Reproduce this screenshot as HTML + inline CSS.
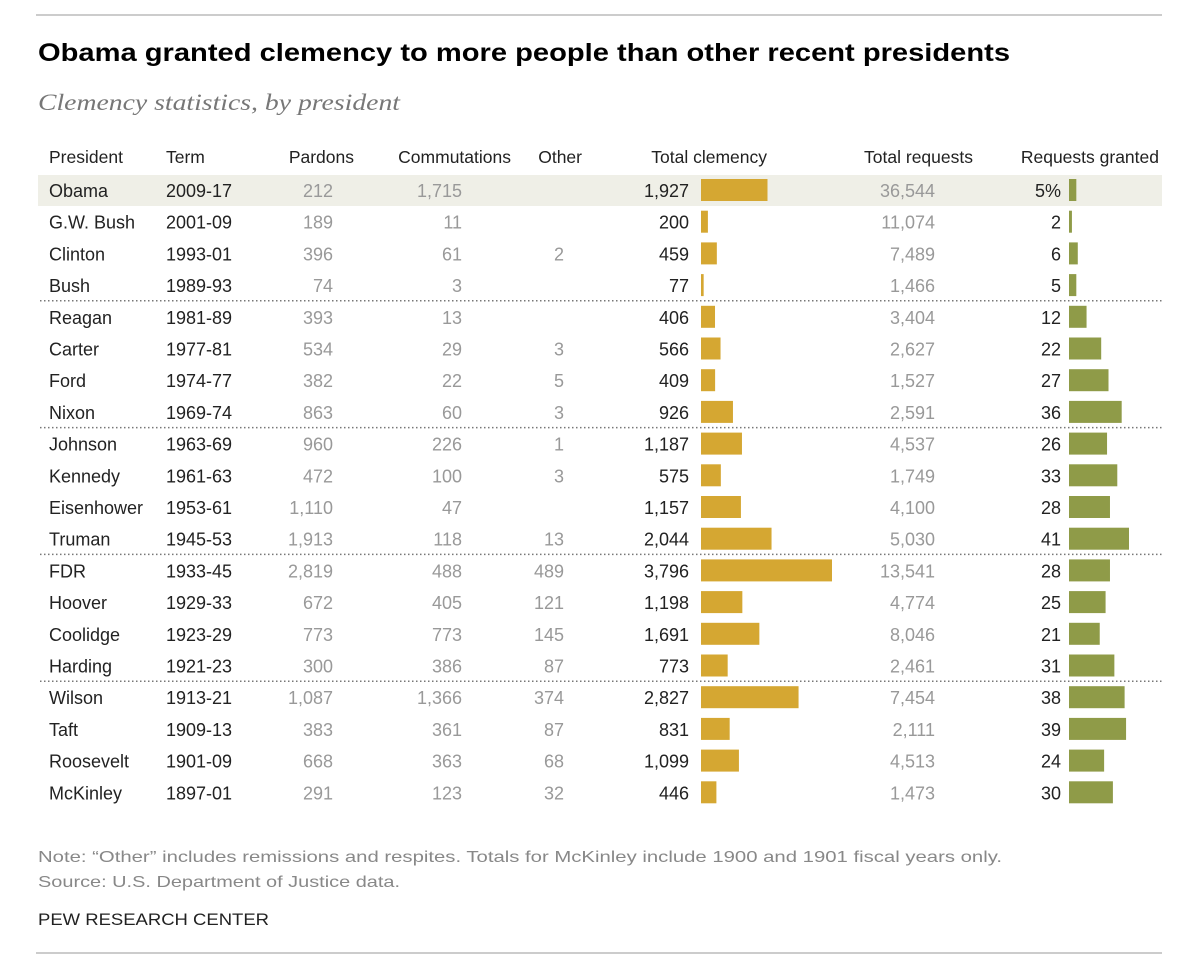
<!DOCTYPE html>
<html><head><meta charset="utf-8"><style>
body{margin:0;background:#fff;width:1200px;height:973px;overflow:hidden;font-family:"Liberation Sans",sans-serif;}
</style></head><body>
<svg id="c" width="1200" height="973" xmlns="http://www.w3.org/2000/svg" font-family="Liberation Sans, sans-serif">
<rect x="0" y="0" width="1200" height="973" fill="#fff"/>
<line x1="36" y1="15" x2="1162" y2="15" stroke="#ccc" stroke-width="2"/>
<text x="38" y="61" font-size="25" font-weight="bold" fill="#000" textLength="972" lengthAdjust="spacingAndGlyphs">Obama granted clemency to more people than other recent presidents</text>
<text x="38" y="110" font-size="23" font-style="italic" fill="#777" font-family="Liberation Serif, serif" textLength="362" lengthAdjust="spacingAndGlyphs">Clemency statistics, by president</text>
<rect x="38" y="175" width="1124" height="31" fill="#efefe7"/>
<g id="hdr" font-size="17.5" fill="#222"></g>
<g id="rows"></g>
<text x="38" y="862" font-size="16" fill="#888" textLength="964" lengthAdjust="spacingAndGlyphs">Note: “Other” includes remissions and respites. Totals for McKinley include 1900 and 1901 fiscal years only.</text>
<text x="38" y="887" font-size="16" fill="#888" textLength="362" lengthAdjust="spacingAndGlyphs">Source: U.S. Department of Justice data.</text>
<text x="38" y="925" font-size="17" fill="#222" textLength="231" lengthAdjust="spacingAndGlyphs">PEW RESEARCH CENTER</text>
<line x1="36" y1="953" x2="1162" y2="953" stroke="#ccc" stroke-width="2"/>
</svg>
<script>
const presidents=["Obama","G.W. Bush","Clinton","Bush","Reagan","Carter","Ford","Nixon","Johnson","Kennedy","Eisenhower","Truman","FDR","Hoover","Coolidge","Harding","Wilson","Taft","Roosevelt","McKinley"];
const terms=["2009-17","2001-09","1993-01","1989-93","1981-89","1977-81","1974-77","1969-74","1963-69","1961-63","1953-61","1945-53","1933-45","1929-33","1923-29","1921-23","1913-21","1909-13","1901-09","1897-01"];
const pardons=[212,189,396,74,393,534,382,863,960,472,1110,1913,2819,672,773,300,1087,383,668,291];
const commutations=[1715,11,61,3,13,29,22,60,226,100,47,118,488,405,773,386,1366,361,363,123];
const other=[null,null,2,null,null,3,5,3,1,3,null,13,489,121,145,87,374,87,68,32];
const totalClemency=[1927,200,459,77,406,566,409,926,1187,575,1157,2044,3796,1198,1691,773,2827,831,1099,446];
const totalRequests=[36544,11074,7489,1466,3404,2627,1527,2591,4537,1749,4100,5030,13541,4774,8046,2461,7454,2111,4513,1473];
const pctGranted=[5,2,6,5,12,22,27,36,26,33,28,41,28,25,21,31,38,39,24,30];
const headers=["President","Term","Pardons","Commutations","Other","Total clemency","Total requests","Requests granted"];
const NS="http://www.w3.org/2000/svg";
const svg=document.getElementById('c');
const hdr=document.getElementById('hdr'),rows=document.getElementById('rows');
const fmt=v=>v==null?"":v.toLocaleString('en-US');
const xC=v=>v*131/3796, xP=v=>v*60/41;
const rowY=i=>175+i*31.7;
function txt(p,x,y,s,anchor,fill,name){const t=document.createElementNS(NS,'text');t.setAttribute('x',x);t.setAttribute('y',y);t.setAttribute('font-size','18');t.setAttribute('text-anchor',anchor);t.setAttribute('fill',fill);t.textContent=s;


p.appendChild(t);return t;}
const hx=[[49,'start'],[166,'start'],[354,'end'],[511,'end'],[582,'end'],[767,'end'],[973,'end'],[1159,'end']];
headers.forEach((h,i)=>{const t=txt(hdr,hx[i][0],163,h,hx[i][1],'#222','column-header');t.setAttribute('font-size','17.5');});
presidents.forEach((p,i)=>{
 const y=rowY(i), ty=y+22;
 const g=document.createElementNS(NS,'g');
 
 
 rows.appendChild(g);
 txt(g,49,ty,p,'start','#222','president-name');
 txt(g,166,ty,terms[i],'start','#222','term');
 txt(g,333,ty,fmt(pardons[i]),'end','#999','pardons');
 txt(g,462,ty,fmt(commutations[i]),'end','#999','commutations');
 txt(g,564,ty,fmt(other[i]),'end','#999','other');
 txt(g,689,ty,fmt(totalClemency[i]),'end','#222','total-clemency');
 txt(g,935,ty,fmt(totalRequests[i]),'end','#999','total-requests');
 txt(g,1061,ty,pctGranted[i]+(i==0?'%':''),'end','#222','requests-granted');
 const b=document.createElementNS(NS,'rect');b.setAttribute('x',701);b.setAttribute('y',y+4);b.setAttribute('width',Math.max(2.5,xC(totalClemency[i])));b.setAttribute('height',22);b.setAttribute('fill','#d5a732');
 
 
 g.appendChild(b);
 const r=document.createElementNS(NS,'rect');r.setAttribute('x',1069);r.setAttribute('y',y+4);r.setAttribute('width',xP(pctGranted[i]));r.setAttribute('height',22);r.setAttribute('fill','#8f9b48');
 
 
 g.appendChild(r);
});
[4,8,12,16].forEach(k=>{const l=document.createElementNS(NS,'line');const y=rowY(k)-1;l.setAttribute('x1',40);l.setAttribute('x2',1162);l.setAttribute('y1',y);l.setAttribute('y2',y);l.setAttribute('stroke','#777');l.setAttribute('stroke-dasharray','1.5 2.5');l.setAttribute('stroke-width','1.5');
 
 
 svg.appendChild(l);});
</script>
</body></html>
